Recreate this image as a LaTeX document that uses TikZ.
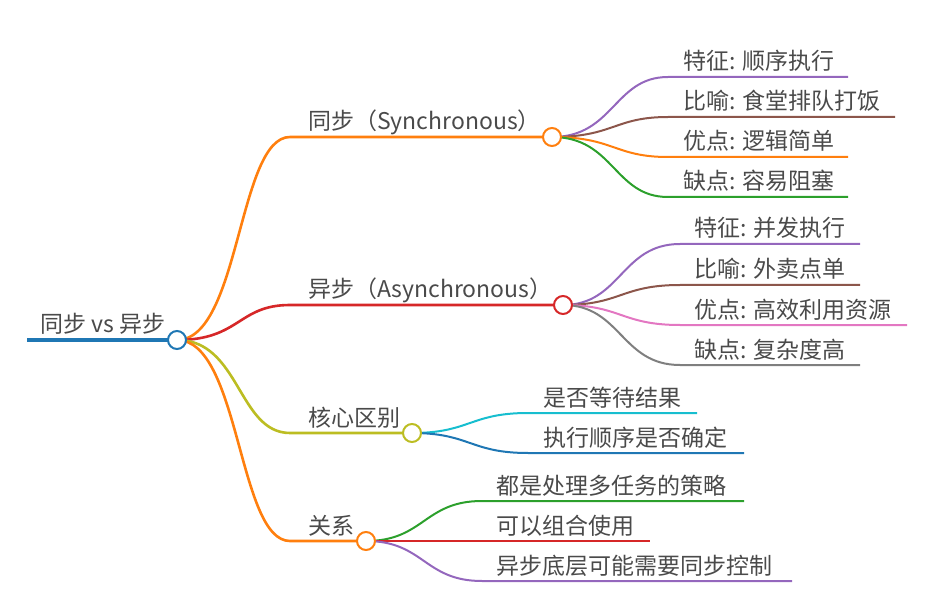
\documentclass[tikz,border=0pt]{standalone}
\usepackage{fontspec}
\setmainfont{Noto Sans CJK SC}
\usetikzlibrary{backgrounds}
\definecolor{cblue}{HTML}{1F77B4}
\definecolor{corange}{HTML}{FF7F0E}
\definecolor{cred}{HTML}{D62728}
\definecolor{cgreen}{HTML}{2CA02C}
\definecolor{cpurple}{HTML}{9467BD}
\definecolor{cbrown}{HTML}{8C564B}
\definecolor{cpink}{HTML}{E377C2}
\definecolor{cgray}{HTML}{7F7F7F}
\definecolor{colive}{HTML}{BCBD22}
\definecolor{ccyan}{HTML}{17BECF}
\definecolor{txt}{HTML}{4A4A4A}
\begin{document}
\begin{tikzpicture}[x=1pt,y=-1pt,
  dot/.style={circle, draw, fill=white, line width=2pt, minimum size=18pt, inner sep=0pt},
  lbl/.style={anchor=base west, inner sep=0pt, text=txt, font=\fontsize{23}{27}\selectfont},
  branch/.style={line width=2.6pt},
  leaf/.style={line width=2pt}]
\useasboundingbox (0,0) rectangle (943,596);

% root
\coordinate (r0) at (27,340);
\node[dot, draw=cblue] (root) at (177,340) {};
\node[lbl] (roott) at (40,332) {同步 vs 异步};

% branch circles
\node[dot, draw=corange] (b1) at (552,137) {};
\node[dot, draw=cred] (b2) at (563,305) {};
\node[dot, draw=colive] (b3) at (412,433) {};
\node[dot, draw=corange] (b4) at (366,541) {};
\coordinate (b1s) at (290,137);
\coordinate (b2s) at (290,305);
\coordinate (b3s) at (290,433);
\coordinate (b4s) at (290,541);
\node[lbl] (b1t) at (308,130) {同步（Synchronous）};
\node[lbl] (b2t) at (308,298) {异步（Asynchronous）};
\node[lbl] (b3t) at (308,426) {核心区别};
\node[lbl] (b4t) at (308,534) {关系};

% leaves of branch 1
\coordinate (l11s) at (668,77);  \coordinate (l11e) at (848,77);
\coordinate (l12s) at (668,117); \coordinate (l12e) at (895,117);
\coordinate (l13s) at (668,157); \coordinate (l13e) at (848,157);
\coordinate (l14s) at (668,197); \coordinate (l14e) at (848,197);
\node[lbl] (t11) at (683,70)  {特征: 顺序执行};
\node[lbl] (t12) at (683,110) {比喻: 食堂排队打饭};
\node[lbl] (t13) at (683,150) {优点: 逻辑简单};
\node[lbl] (t14) at (683,190) {缺点: 容易阻塞};

% leaves of branch 2
\coordinate (l21s) at (680,244); \coordinate (l21e) at (860,244);
\coordinate (l22s) at (680,285); \coordinate (l22e) at (860,285);
\coordinate (l23s) at (680,325); \coordinate (l23e) at (907,325);
\coordinate (l24s) at (680,365); \coordinate (l24e) at (860,365);
\node[lbl] (t21) at (694,237) {特征: 并发执行};
\node[lbl] (t22) at (694,278) {比喻: 外卖点单};
\node[lbl] (t23) at (694,318) {优点: 高效利用资源};
\node[lbl] (t24) at (694,358) {缺点: 复杂度高};

% leaves of branch 3
\coordinate (l31s) at (528,413); \coordinate (l31e) at (697,413);
\coordinate (l32s) at (528,453); \coordinate (l32e) at (744,453);
\node[lbl] (t31) at (543,406) {是否等待结果};
\node[lbl] (t32) at (543,446) {执行顺序是否确定};

% leaves of branch 4
\coordinate (l41s) at (482,501); \coordinate (l41e) at (744,501);
\coordinate (l42s) at (482,541); \coordinate (l42e) at (650,541);
\coordinate (l43s) at (482,581); \coordinate (l43e) at (792,581);
\node[lbl] (t41) at (496,494) {都是处理多任务的策略};
\node[lbl] (t42) at (496,534) {可以组合使用};
\node[lbl] (t43) at (496,574) {异步底层可能需要同步控制};

\begin{pgfonlayer}{background}
\draw[cblue, line width=3.2pt] (r0) -- (root.center);
\draw[branch, corange] (root.center) .. controls (240,340) and (238,137) .. (b1s) -- (b1.center);
\draw[branch, cred] (root.center) .. controls (240,340) and (238,305) .. (b2s) -- (b2.center);
\draw[branch, colive] (root.center) .. controls (240,340) and (238,433) .. (b3s) -- (b3.center);
\draw[branch, corange] (root.center) .. controls (240,340) and (238,541) .. (b4s) -- (b4.center);

\draw[leaf, cpurple] (b1.center) .. controls (614,137) and (614,77) .. (l11s) -- (l11e);
\draw[leaf, cbrown] (b1.center) .. controls (614,137) and (614,117) .. (l12s) -- (l12e);
\draw[leaf, corange] (b1.center) .. controls (614,137) and (614,157) .. (l13s) -- (l13e);
\draw[leaf, cgreen] (b1.center) .. controls (614,137) and (614,197) .. (l14s) -- (l14e);

\draw[leaf, cpurple] (b2.center) .. controls (621,305) and (621,244) .. (l21s) -- (l21e);
\draw[leaf, cbrown] (b2.center) .. controls (621,305) and (621,285) .. (l22s) -- (l22e);
\draw[leaf, cpink] (b2.center) .. controls (621,305) and (621,325) .. (l23s) -- (l23e);
\draw[leaf, cgray] (b2.center) .. controls (621,305) and (621,365) .. (l24s) -- (l24e);

\draw[leaf, ccyan] (b3.center) .. controls (470,433) and (470,413) .. (l31s) -- (l31e);
\draw[leaf, cblue] (b3.center) .. controls (470,433) and (470,453) .. (l32s) -- (l32e);

\draw[leaf, cgreen] (b4.center) .. controls (424,541) and (424,501) .. (l41s) -- (l41e);
\draw[leaf, cred] (b4.center) .. controls (424,541) and (424,541) .. (l42s) -- (l42e);
\draw[leaf, cpurple] (b4.center) .. controls (424,541) and (424,581) .. (l43s) -- (l43e);
\end{pgfonlayer}
\end{tikzpicture}
\end{document}
